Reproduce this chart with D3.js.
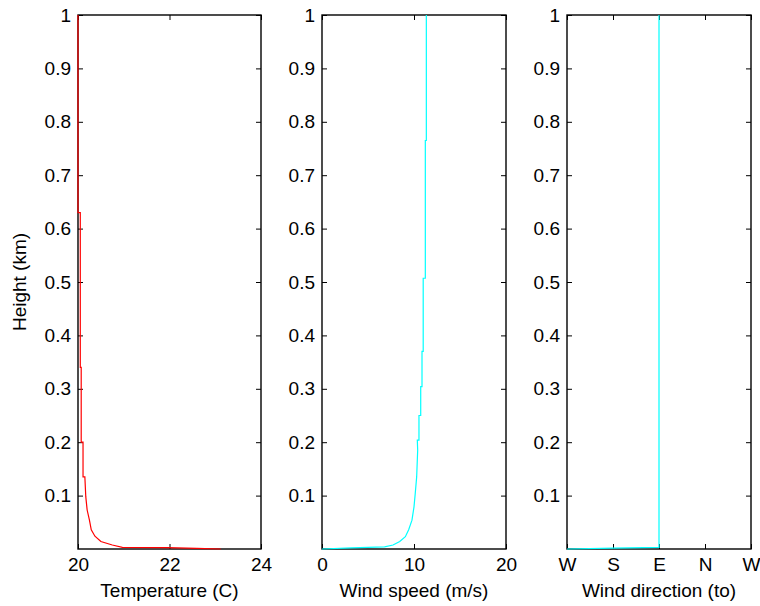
<!DOCTYPE html>
<html>
<head>
<meta charset="utf-8">
<script src="https://cdn.jsdelivr.net/npm/d3@7"></script>
<style>
  html, body { margin: 0; padding: 0; background: #fff; }
  svg { display: block; font-family: "Liberation Sans", Arial, sans-serif; }
</style>
</head>
<body>
<svg id="chart" width="760" height="606"></svg>
<script>
// ---- data (height in km) ----
const tempHeights = [1, 0.63, 0.63, 0.34, 0.34, 0.2, 0.2, 0.135, 0.135, 0.098, 0.073, 0.054, 0.036, 0.024, 0.014, 0.0075, 0.003, 0.0025, 0.001, 0];
const tempValues  = [20.0, 20.0, 20.05, 20.05, 20.07, 20.07, 20.11, 20.11, 20.15, 20.17, 20.2, 20.25, 20.29, 20.37, 20.5, 20.75, 20.97, 21.95, 22.6, 23.12];

const speedHeights = [1, 0.765, 0.765, 0.507, 0.507, 0.37, 0.37, 0.304, 0.304, 0.25, 0.25, 0.204, 0.204, 0.185, 0.135, 0.105, 0.079, 0.054, 0.036, 0.023, 0.014, 0.0075, 0.004, 0.002, 0];
const speedValues  = [11.34, 11.34, 11.23, 11.23, 11.0, 11.0, 10.87, 10.87, 10.73, 10.73, 10.54, 10.54, 10.36, 10.4, 10.29, 10.14, 10.0, 9.78, 9.42, 9.06, 8.45, 7.72, 6.8, 3.2, 0];

const dirHeights = [1, 0.003, 0.0015, 0];
const dirValues  = [90, 90, 180, 270];   // degrees (direction wind blows to)

const heightTicks = [0.1, 0.2, 0.3, 0.4, 0.5, 0.6, 0.7, 0.8, 0.9, 1];
const tempTicks = [20, 22, 24];
const speedTicks = [0, 10, 20];
const dirTicks = [270, 180, 90, 0, -90];
const dirTickLabels = ["W", "S", "E", "N", "W"];

// ---- layout ----
const svg = d3.select("#chart");
const plotTop = 15, plotBottom = 549;
const panels = [
  { x0: 78,  x1: 261, domain: [20, 24], ticks: tempTicks, labels: tempTicks.map(String), xlabel: "Temperature (C)", h: tempHeights, v: tempValues, color: "#ff0000" },
  { x0: 322, x1: 506, domain: [0, 20], ticks: speedTicks, labels: speedTicks.map(String), xlabel: "Wind speed (m/s)", h: speedHeights, v: speedValues, color: "#00ffff" },
  { x0: 567, x1: 751, domain: [270, -90], ticks: dirTicks, labels: dirTickLabels, xlabel: "Wind direction (to)", h: dirHeights, v: dirValues, color: "#00ffff" }
];

const y = d3.scaleLinear().domain([0, 1]).range([plotBottom, plotTop]);
const fontSize = 19;
const tickLen = 5;
const fontFam = "Liberation Sans, Arial, sans-serif";

panels.forEach((p, i) => {
  const x = d3.scaleLinear().domain(p.domain).range([p.x0, p.x1]);
  const g = svg.append("g");

  // box
  g.append("rect")
    .attr("x", p.x0).attr("y", plotTop)
    .attr("width", p.x1 - p.x0).attr("height", plotBottom - plotTop)
    .attr("fill", "none").attr("stroke", "#000").attr("stroke-width", 1.4);

  // left axis (ticks inward, labels outside)
  const yl = d3.axisLeft(y).tickValues(heightTicks).tickSize(-tickLen).tickPadding(7)
    .tickFormat(d => d === 1 ? "1" : d3.format(".1f")(d));
  const gy = g.append("g").attr("transform", `translate(${p.x0},0)`).call(yl);
  gy.select(".domain").remove();
  gy.selectAll("text").attr("font-size", fontSize).attr("fill", "#000").attr("font-family", fontFam);
  gy.selectAll("line").attr("stroke", "#000");

  // right ticks
  const yr = d3.axisRight(y).tickValues(heightTicks).tickSize(-tickLen).tickFormat("");
  const gyr = g.append("g").attr("transform", `translate(${p.x1},0)`).call(yr);
  gyr.select(".domain").remove();
  gyr.selectAll("line").attr("stroke", "#000");

  // bottom axis
  const xb = d3.axisBottom(x).tickValues(p.ticks).tickSize(-tickLen).tickPadding(9)
    .tickFormat((d, k) => p.labels[k]);
  const gx = g.append("g").attr("transform", `translate(0,${plotBottom})`).call(xb);
  gx.select(".domain").remove();
  gx.selectAll("text").attr("font-size", fontSize).attr("fill", "#000").attr("font-family", fontFam);
  gx.selectAll("line").attr("stroke", "#000");

  // top ticks
  const xt = d3.axisTop(x).tickValues(p.ticks).tickSize(-tickLen).tickFormat("");
  const gxt = g.append("g").attr("transform", `translate(0,${plotTop})`).call(xt);
  gxt.select(".domain").remove();
  gxt.selectAll("line").attr("stroke", "#000");

  // data line (drawn over the box, as in the reference)
  const pts = p.h.map((hv, k) => [p.v[k], hv]);
  g.append("path")
    .datum(pts)
    .attr("fill", "none")
    .attr("stroke", p.color)
    .attr("stroke-width", 1.2)
    .attr("d", d3.line().x(d => x(d[0])).y(d => y(d[1])));

  // x label
  g.append("text")
    .attr("x", (p.x0 + p.x1) / 2).attr("y", 597)
    .attr("text-anchor", "middle")
    .attr("font-size", fontSize)
    .text(p.xlabel);
});

// y label
svg.append("text")
  .attr("transform", `translate(26,${(plotTop + plotBottom) / 2}) rotate(-90)`)
  .attr("text-anchor", "middle")
  .attr("font-size", fontSize)
  .text("Height (km)");
</script>
</body>
</html>
